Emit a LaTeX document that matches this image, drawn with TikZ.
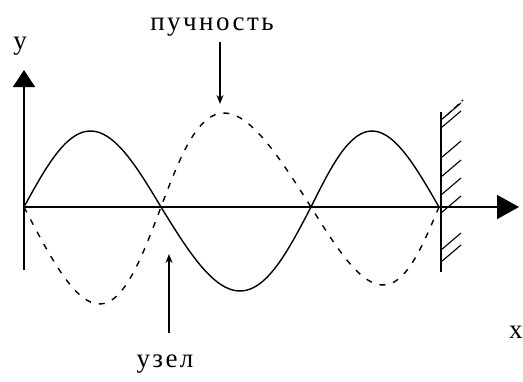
\documentclass[tikz,border=0pt]{standalone}
\usepackage{fontspec}
\setmainfont{Liberation Serif}
\newfontfamily\lblfont[LetterSpace=9]{Liberation Serif}
\usetikzlibrary{arrows.meta}
\tikzset{
  axisline/.style={line width=1.7pt},
  wave/.style={line width=1.4pt},
  wavedash/.style={line width=1.4pt, dash pattern=on 6pt off 8pt},
  hatchline/.style={line width=1.1pt},
  ptr/.style={line width=1.5pt,-{Stealth[length=9pt,width=7pt]}},
  lbl/.style={font=\lblfont\fontsize{27}{29}\selectfont, inner sep=0pt},
}
\begin{document}
\begin{tikzpicture}[x=1pt,y=-1pt]
\useasboundingbox (0,0) rectangle (523,381);
% axes
\coordinate (O) at (24,207);
\coordinate (ytop) at (24,70);
\coordinate (ybot) at (24,270);
\coordinate (xend) at (519,207);
\draw[axisline,-{Triangle[length=17pt,width=22pt]}] (ybot) -- (ytop);
\draw[axisline,-{Triangle[length=22pt,width=24pt]}] (O) -- (xend);
% solid wave
\draw[wave] plot[domain=0:180,samples=40,smooth] ({24+(137/180)*\x-2*sin(\x)},{207-76*sin(\x)})
  -- plot[domain=0:180,samples=40,smooth] ({161+(150/180)*\x+4*sin(\x)},{207+84*sin(\x)})
  -- plot[domain=0:180,samples=40,smooth] ({311+(128/180)*\x-3*sin(\x)},{207-76*sin(\x)});
% dashed wave
\draw[wavedash] plot[domain=0:180,samples=40,smooth] ({24+(137/180)*\x+7*sin(\x)},{207+97*sin(\x)})
  -- plot[domain=0:180,samples=40,smooth] ({161+(150/180)*\x-12*sin(\x)},{207-94*sin(\x)})
  -- plot[domain=0:180,samples=40,smooth] ({311+(128/180)*\x+8*sin(\x)},{207+78*sin(\x)});
% wall
\coordinate (wtop) at (441,112);
\coordinate (wbot) at (441,272);
\draw[axisline] (wtop) -- (wbot);
\foreach \yy in {120,128,158,177,195,213,250,262}{
  \draw[hatchline] (441,\yy) -- ++(20,-17);
}
\draw[hatchline,dash pattern=on 6pt off 4pt] (447,115) -- (463,100);
% labels
\node[lbl] (lpuch) at (212,27) {пучность};
\node[lbl] (luzel) at (165,364) {узел};
\node[lbl] (ly) at (20,46) {y};
\node[lbl,anchor=west] (lx) at (509,332) {x};
% pointers
\coordinate (pa) at (220,42);
\coordinate (pb) at (220,104);
\draw[ptr] (pa) -- (pb);
\coordinate (ua) at (169,333);
\coordinate (ub) at (169,254);
\draw[ptr] (ua) -- (ub);
\end{tikzpicture}
\end{document}
